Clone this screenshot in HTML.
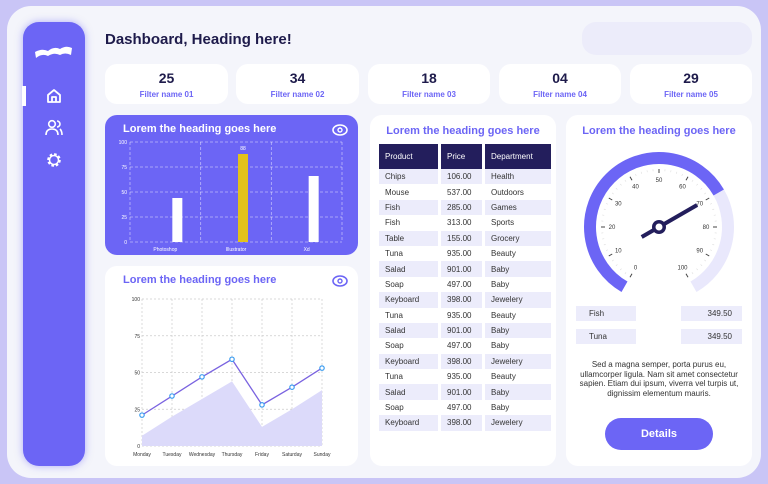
<!DOCTYPE html>
<html><head><meta charset="utf-8">
<style>
*{box-sizing:border-box;margin:0;padding:0}
body{width:768px;height:484px;background:#c9c5f6;font-family:"Liberation Sans",sans-serif;position:relative;overflow:hidden}
.abs{position:absolute}
.main{left:7px;top:6px;width:754px;height:472px;background:#f4f5fb;border-radius:24px}
.side{left:23px;top:22px;width:62px;height:444px;background:#6c65f5;border-radius:16px;box-shadow:0 0 8px rgba(108,101,245,.5)}
.card{background:#fff;border-radius:12px}
.fc{top:64px;height:40px;text-align:center}
.fc b{display:block;font-size:14px;color:#1e1b4b;margin-top:6px}
.fc span{display:block;font-size:8px;font-weight:bold;color:#6c65f5;margin-top:4px}
.h{font-size:11px;font-weight:bold;color:#6c65f5}
table{border-collapse:separate;border-spacing:3px 0;font-size:8px;color:#333}
th{background:#231e5c;color:#fff;font-weight:normal;text-align:left;padding:0 6px;height:25px}
td{padding:0 6px;height:15.4px}
tr.o td{background:#ececfb}
.pill{background:#ececfb;font-size:8px;color:#333;height:15px;line-height:15px}
</style></head><body>
<div class="abs main"></div>
<div class="abs side">
 <svg class="abs" style="left:11px;top:20px" width="40" height="20"><path d="M1 10 Q8 6 14 9 Q20 4 26 7 Q32 3 38 6 L37 13 Q31 10 26 13 Q20 10 14 14 Q8 11 2 16Z" fill="#fff"/></svg>
 <div class="abs" style="left:-1px;top:64px;width:4px;height:20px;background:#fff"></div>
 <svg class="abs" style="left:22px;top:65px" width="18" height="18"><path d="M3 8 L9 3 L15 8 V15 H3Z M7 15 V10 H11 V15" fill="none" stroke="#fff" stroke-width="1.8" stroke-linejoin="round"/></svg>
 <svg class="abs" style="left:21px;top:97px" width="20" height="18"><circle cx="8" cy="5" r="3.3" fill="none" stroke="#fff" stroke-width="1.6"/><path d="M2 16 Q2 10 8 10 Q14 10 14 16" fill="none" stroke="#fff" stroke-width="1.6"/><path d="M13 2 A3 3 0 0 1 13 8 M16 10 Q18 12 18 16" fill="none" stroke="#fff" stroke-width="1.6"/></svg>
 <svg class="abs" style="left:22px;top:129px" width="18" height="18"><circle cx="9" cy="9" r="5.5" fill="none" stroke="#fff" stroke-width="2.6" stroke-dasharray="2.5 1.8"/><circle cx="9" cy="9" r="4.5" fill="none" stroke="#fff" stroke-width="1.5"/></svg>
</div>
<div class="abs" style="left:105px;top:31px;font-size:15px;font-weight:bold;color:#1e1b4b">Dashboard, Heading here!</div>
<div class="abs" style="left:582px;top:22px;width:170px;height:33px;background:#ececfa;border-radius:14px"></div>

<div class="abs card fc" style="left:105px;width:123px"><b>25</b><span>Filter name 01</span></div>
<div class="abs card fc" style="left:236px;width:123px"><b>34</b><span>Filter name 02</span></div>
<div class="abs card fc" style="left:368px;width:122px"><b>18</b><span>Filter name 03</span></div>
<div class="abs card fc" style="left:499px;width:122px"><b>04</b><span>Filter name 04</span></div>
<div class="abs card fc" style="left:630px;width:122px"><b>29</b><span>Filter name 05</span></div>

<div class="abs" style="left:105px;top:115px;width:253px;height:140px;background:#6c65f5;border-radius:12px">
 <div class="abs h" style="left:18px;top:8px;color:#fff">Lorem the heading goes here</div>
</div>
<div class="abs card" style="left:105px;top:266px;width:253px;height:200px">
 <div class="abs h" style="left:18px;top:8px">Lorem the heading goes here</div>
</div>
<div class="abs card" style="left:370px;top:115px;width:186px;height:351px">
 <div class="abs h" style="left:0;width:186px;text-align:center;top:10px">Lorem the heading goes here</div>
 <table class="abs" style="left:6px;top:29px;width:178px">
  <thead><tr><th style="width:59px">Product</th><th style="width:41px">Price</th><th>Department</th></tr></thead>
  <tbody id="tb"></tbody>
 </table>
</div>
<div class="abs card" style="left:566px;top:115px;width:186px;height:351px">
 <div class="abs h" style="left:0;width:186px;text-align:center;top:10px">Lorem the heading goes here</div>
 <div class="abs pill" style="left:10px;top:191px;width:60px;padding-left:13px">Fish</div>
 <div class="abs pill" style="left:115px;top:191px;width:61px;text-align:right;padding-right:10px">349.50</div>
 <div class="abs pill" style="left:10px;top:214px;width:60px;padding-left:13px">Tuna</div>
 <div class="abs pill" style="left:115px;top:214px;width:61px;text-align:right;padding-right:10px">349.50</div>
 <div class="abs" style="left:10px;width:166px;top:245px;font-size:8px;line-height:9.5px;text-align:center;color:#333">Sed a magna semper, porta purus eu, ullamcorper ligula. Nam sit amet consectetur sapien. Etiam dui ipsum, viverra vel turpis ut, dignissim elementum mauris.</div>
 <div class="abs" style="left:39px;top:303px;width:108px;height:32px;border-radius:16px;background:#6c65f5;color:#fff;font-weight:bold;font-size:11px;text-align:center;line-height:32px">Details</div>
</div>

<svg class="abs" style="left:0;top:0" width="768" height="484" id="svg">
 <g id="eye1"><ellipse cx="340" cy="130" rx="7" ry="5" fill="none" stroke="#fff" stroke-width="1.6"/><circle cx="340" cy="130" r="2" fill="none" stroke="#fff" stroke-width="1.4"/></g>
 <g><ellipse cx="340" cy="281" rx="7" ry="5" fill="none" stroke="#6c65f5" stroke-width="1.6"/><circle cx="340" cy="281" r="2" fill="none" stroke="#6c65f5" stroke-width="1.4"/></g>
</svg>
<script>
const barCats=["Photoshop","Illustrator","Xd"];
const barVals=[44,88,66];
const barTicks=[0,25,50,75,100];
const lineCats=["Monday","Tuesday","Wednesday","Thursday","Friday","Saturday","Sunday"];
const lineVals=[21,34,47,59,28,40,53];
const areaVals=[7,20,32,44,13,25,38];
const lineTicks=[0,25,50,75,100];
const tblProducts=["Chips","Mouse","Fish","Fish","Table","Tuna","Salad","Soap","Keyboard","Tuna","Salad","Soap","Keyboard","Tuna","Salad","Soap","Keyboard"];
const tblPrices=["106.00","537.00","285.00","313.00","155.00","935.00","901.00","497.00","398.00","935.00","901.00","497.00","398.00","935.00","901.00","497.00","398.00"];
const tblDepts=["Health","Outdoors","Games","Sports","Grocery","Beauty","Baby","Baby","Jewelery","Beauty","Baby","Baby","Jewelery","Beauty","Baby","Baby","Jewelery"];
const gaugeValue=70;
const gaugeTicks=[0,10,20,30,40,50,60,70,80,90,100];

const NS="http://www.w3.org/2000/svg",svg=document.getElementById('svg');
function mk(t,a,p){const e=document.createElementNS(NS,t);for(const k in a)e.setAttribute(k,a[k]);(p||svg).appendChild(e);return e;}
function txt(x,y,s,a){const e=mk('text',Object.assign({x:x,y:y},a));e.textContent=s;return e;}

const tb=document.getElementById('tb');
tblProducts.forEach((p,i)=>{const tr=document.createElement('tr');if(i%2==0)tr.className='o';


tr.innerHTML='<td>'+p+'</td><td>'+tblPrices[i]+'</td><td>'+tblDepts[i]+'</td>';tb.appendChild(tr);});

{const x0=130,x1=342,y0=242,y1=142;const bw=(x1-x0)/barCats.length;
const ys=v=>y0-(v/100)*(y0-y1);
barTicks.forEach(t=>{mk('line',{x1:x0,x2:x1,y1:ys(t),y2:ys(t),stroke:'rgba(255,255,255,.55)','stroke-dasharray':'3 2','stroke-width':0.8});
txt(x0-3,ys(t)+2,t,{'font-size':5,fill:'#fff','text-anchor':'end'});});
for(let i=0;i<=barCats.length;i++)mk('line',{x1:x0+i*bw,x2:x0+i*bw,y1:y1,y2:y0,stroke:'rgba(255,255,255,.55)','stroke-dasharray':'3 2','stroke-width':0.8});
barCats.forEach((c,i)=>{const cc=x0+bw*(i+0.5);const cx=cc+(i==0?12:7);
const r=mk('rect',{x:cx-5,y:ys(barVals[i]),width:10,height:y0-ys(barVals[i]),fill:i==1?'#e2c21a':'#fff'});


txt(cc,y0+9,c,{'font-size':5,fill:'#fff','text-anchor':'middle'});
if(i==1)txt(cx,ys(barVals[i])-4,barVals[i],{'font-size':5,fill:'#fff','text-anchor':'middle'});});}

{const x0=142,x1=322,y0=446,y1=299;const st=(x1-x0)/(lineCats.length-1);
const xs=i=>x0+i*st,ys=v=>y0-(v/100)*(y0-y1);
lineTicks.forEach(t=>{mk('line',{x1:x0,x2:x1,y1:ys(t),y2:ys(t),stroke:'#ccc','stroke-dasharray':'2 2','stroke-width':0.7});
txt(x0-2,ys(t)+2,t,{'font-size':5,fill:'#333','text-anchor':'end'});});
lineCats.forEach((c,i)=>{mk('line',{x1:xs(i),x2:xs(i),y1:y1,y2:y0,stroke:'#ccc','stroke-dasharray':'2 2','stroke-width':0.7});
txt(xs(i),y0+10,c,{'font-size':5,fill:'#333','text-anchor':'middle'});});
let d='M'+x0+' '+y0;areaVals.forEach((v,i)=>d+=' L'+xs(i)+' '+ys(v));d+=' L'+x1+' '+y0+'Z';
const a=mk('path',{d:d,fill:'#dcdafa'});


const pl=mk('polyline',{points:lineVals.map((v,i)=>xs(i)+','+ys(v)).join(' '),fill:'none',stroke:'#7a63e0','stroke-width':1.3});


lineVals.forEach((v,i)=>{const c=mk('circle',{cx:xs(i),cy:ys(v),r:2.2,fill:'#fff',stroke:'#3b9cf0','stroke-width':1.2});

});}

{const cx=659,cy=227,R=69;const ang=v=>(-150+v*3)*Math.PI/180;
const pt=(v,r)=>[cx+r*Math.sin(ang(v)),cy-r*Math.cos(ang(v))];
function arc(a,b,r){const p=pt(a,r),q=pt(b,r);const large=(b-a)*3>180?1:0;return 'M'+p[0]+' '+p[1]+' A'+r+' '+r+' 0 '+large+' 1 '+q[0]+' '+q[1];}
const bg=mk('path',{d:arc(gaugeValue,100,R),fill:'none',stroke:'#e9e8fc','stroke-width':12});


const fg=mk('path',{d:arc(0,gaugeValue,R),fill:'none',stroke:'#6c65f5','stroke-width':12});


for(let v=0;v<=100;v+=2){const a=pt(v,58),b=pt(v,v%10==0?54:56);mk('line',{x1:a[0],y1:a[1],x2:b[0],y2:b[1],stroke:v%10==0?'#444':'#ddd','stroke-width':v%10==0?1:0.6});}
gaugeTicks.forEach(t=>{const p=pt(t,47);txt(p[0],p[1]+2,t,{'font-size':6,fill:'#333','text-anchor':'middle'});});
const e=pt(gaugeValue,44),s=pt(gaugeValue,-20);
const n=mk('line',{x1:s[0],y1:s[1],x2:e[0],y2:e[1],stroke:'#231e5c','stroke-width':4});


mk('circle',{cx:cx,cy:cy,r:7,fill:'#231e5c'});mk('circle',{cx:cx,cy:cy,r:3.5,fill:'#fff'});}
</script>
</body></html>
